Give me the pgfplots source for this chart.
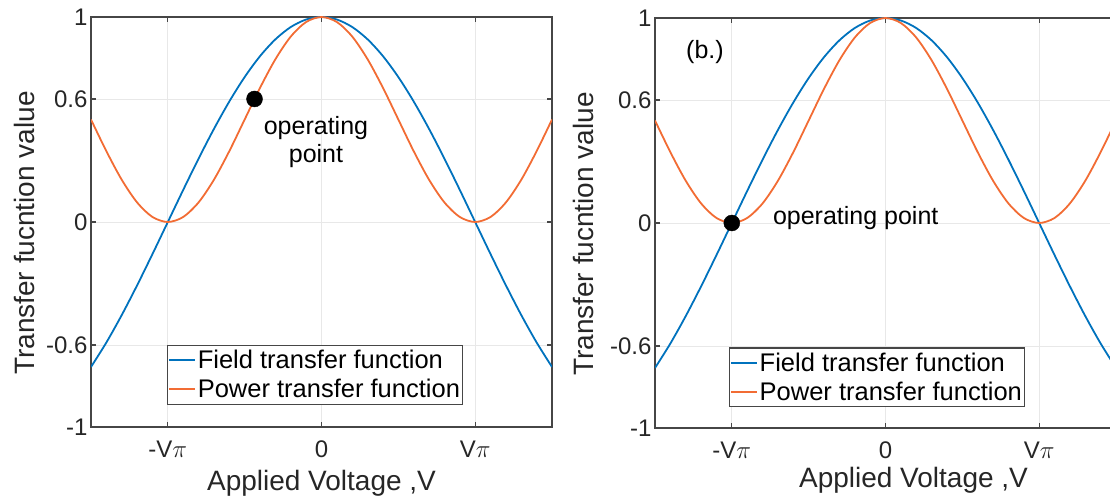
\documentclass[border=0pt]{standalone}
\usepackage{pgfplots}
\pgfplotsset{compat=1.18}
\usepackage{pgfplotstable}
\usepackage{fontspec}
\setmainfont{Liberation Sans}

\definecolor{fieldblue}{RGB}{0,114,189}
\definecolor{powerorange}{RGB}{242,108,52}
\definecolor{axisgray}{RGB}{70,70,70}
\definecolor{textgray}{RGB}{38,38,38}

% Mach-Zehnder modulator transfer functions, voltage in units of V_pi
\pgfplotstableread{
x     field     power
-1.5  -0.70711  0.50000
-1.4  -0.58779  0.34549
-1.3  -0.45399  0.20611
-1.2  -0.30902  0.09549
-1.1  -0.15643  0.02447
-1.0   0.00000  0.00000
-0.9   0.15643  0.02447
-0.8   0.30902  0.09549
-0.7   0.45399  0.20611
-0.6   0.58779  0.34549
-0.5   0.70711  0.50000
-0.4   0.80902  0.65451
-0.3   0.89101  0.79389
-0.2   0.95106  0.90451
-0.1   0.98769  0.97553
 0.0   1.00000  1.00000
 0.1   0.98769  0.97553
 0.2   0.95106  0.90451
 0.3   0.89101  0.79389
 0.4   0.80902  0.65451
 0.5   0.70711  0.50000
 0.6   0.58779  0.34549
 0.7   0.45399  0.20611
 0.8   0.30902  0.09549
 0.9   0.15643  0.02447
 1.0   0.00000  0.00000
 1.1  -0.15643  0.02447
 1.2  -0.30902  0.09549
 1.3  -0.45399  0.20611
 1.4  -0.58779  0.34549
 1.5  -0.70711  0.50000
}\transfer

\tikzset{note/.style={font=\fontsize{25}{29}\selectfont, text=black}}

\pgfplotsset{
  mzmaxis/.style={
    scale only axis, width=461pt, height=410pt, anchor=south west,
    xmin=-1.5, xmax=1.5, ymin=-1, ymax=1,
    xtick={-1,0,1}, xticklabels={-V$\pi$,0,V$\pi$},
    ytick={-1,-0.6,0,0.6,1}, yticklabels={-1,-0.6,0,0.6,1},
    tick align=inside, major tick length=5pt,
    axis line style={axisgray, line width=1.3pt},
    every tick/.style={axisgray, line width=1.2pt},
    grid=major, major grid style={gray!18, line width=0.9pt},
    tick label style={font=\fontsize{24}{28}\selectfont, text=textgray},
    xticklabel style={yshift=-10pt},
    label style={font=\fontsize{28}{32}\selectfont, text=textgray},
    xlabel={Applied Voltage ,V},
    ylabel={Transfer fucntion value},
    legend cell align=left,
    legend image code/.code={\draw[#1,line width=1.6pt] (0pt,0pt) -- (26pt,0pt);},
    legend style={anchor=south west, draw=axisgray, line width=1.2pt, fill=white,
      font=\fontsize{25.5}{29}\selectfont, text=black,
      inner xsep=1pt, inner ysep=3.5pt, row sep=6pt,
      nodes={inner sep=1.5pt}},
  },
  fieldline/.style={fieldblue, line width=1.8pt, smooth},
  powerline/.style={powerorange, line width=1.8pt, smooth},
  oppoint/.style={only marks, mark=*, mark size=8pt, black, forget plot},
}

\begin{document}
\begin{tikzpicture}
\useasboundingbox (0,0) rectangle (1110pt,497pt);
\clip (0,0) rectangle (1110pt,497pt);

% left panel: bias at 0.6 on the power curve
\begin{axis}[mzmaxis, at={(91pt,70pt)}, legend style={at={(0.165,0.054)}},
    xlabel style={at={([yshift=-64pt]axis description cs:0.5,0)}, anchor=base},
    ylabel style={at={([xshift=-67pt]axis description cs:0,0.473)}, anchor=center}]
  \addplot[fieldline] table[x=x, y=field] {\transfer};
  \addplot[powerline] table[x=x, y=power] {\transfer};
  \legend{Field transfer function, Power transfer function}
  \addplot[oppoint] coordinates {(-0.436,0.6)};
  \node[note, anchor=base] at (axis cs:-0.036,0.429) {operating};
  \node[note, anchor=base] at (axis cs:-0.036,0.288) {point};
\end{axis}

% right panel: bias at the null point
\begin{axis}[mzmaxis, at={(655pt,69pt)}, legend style={at={(0.1605,0.05)}},
    xlabel style={at={([xshift=28pt,yshift=-60pt]axis description cs:0.5,0)}, anchor=base},
    ylabel style={at={([xshift=-72pt]axis description cs:0,0.473)}, anchor=center}]
  \addplot[fieldline] table[x=x, y=field] {\transfer};
  \addplot[powerline] table[x=x, y=power] {\transfer};
  \legend{Field transfer function, Power transfer function}
  \addplot[oppoint] coordinates {(-1,0)};
  \node[note, anchor=base west] at (axis cs:-0.755,-0.005) {operating point};
  \node[note, anchor=base west] at (axis cs:-1.32,0.8) {(b.)};
\end{axis}
\end{tikzpicture}
\end{document}
